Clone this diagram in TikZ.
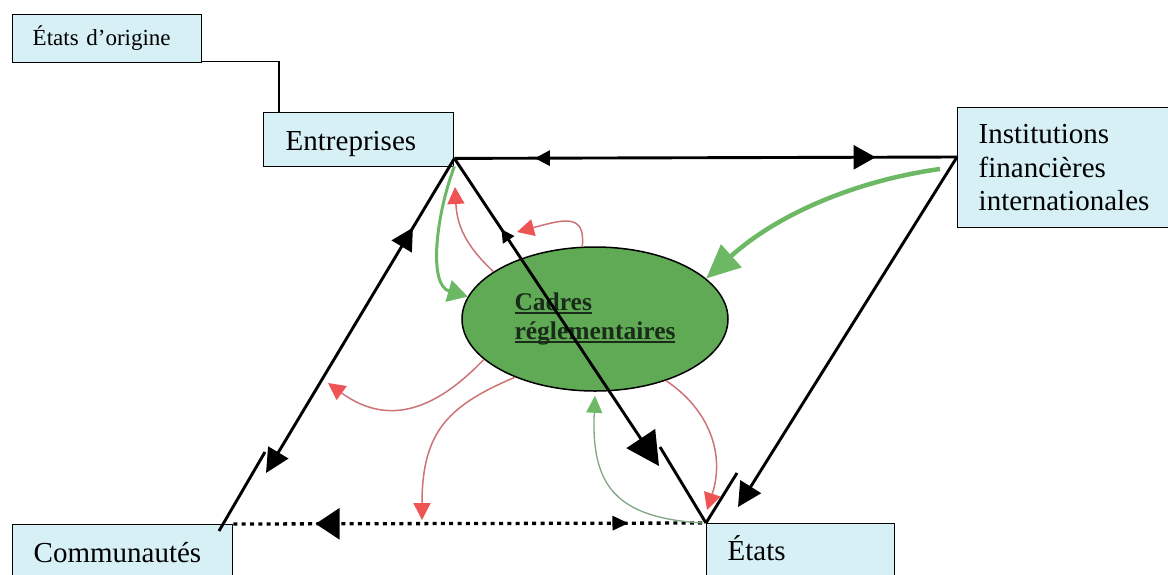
\documentclass[tikz,border=0pt]{standalone}
\usepackage{fontspec}
\setmainfont{Liberation Serif}
\usetikzlibrary{arrows.meta,decorations.markings,calc,shapes.geometric}

\definecolor{boxcyan}{RGB}{214,240,246}
\definecolor{cadgreen}{RGB}{96,170,86}
\definecolor{flowgreen}{RGB}{108,184,100}
\definecolor{thingreen}{RGB}{128,165,128}
\definecolor{flowred}{RGB}{205,115,118}
\definecolor{headred}{RGB}{238,84,84}
\definecolor{cadtext}{RGB}{24,44,24}

% underline at a fixed depth, crossing descenders
\newcommand{\undl}[1]{\setbox0\hbox{#1}\rlap{\rule[-3pt]{\wd0}{1.8pt}}\box0}

\tikzset{
  actor/.style={draw=black, line width=1.4pt, fill=boxcyan, anchor=north west,
    inner ysep=0pt, align=left, font=\fontsize{29}{33.5}\selectfont},
  cadre/.style={ellipse, draw=black, line width=1.5pt, fill=cadgreen,
    minimum width=266pt, minimum height=144pt, inner sep=0pt, align=left,
    font=\fontsize{25.5}{29}\selectfont\bfseries, text=cadtext},
  link/.style={draw=black, line width=2.9pt},
  thinlink/.style={draw=black, line width=1.3pt},
  dotline/.style={draw=black, line width=3.3pt, dash pattern=on 4pt off 4.3pt},
  fwdmark/.style 2 args={postaction={decorate, decoration={markings,
      mark=at position #1 with {\arrow{#2}}}}},
  backmark/.style 2 args={postaction={decorate, decoration={markings,
      mark=at position #1 with {\arrowreversed{#2}}}}},
  redflow/.style={draw=flowred, line width=1.5pt},
  greenflow/.style={draw=flowgreen},
}
\newcommand{\redtip}{Triangle[length=17pt,width=17pt,color=headred]}

\begin{document}
\begin{tikzpicture}[x=1pt, y=-1pt]
\useasboundingbox (0,0) rectangle (1168,574);

% actors
\node[actor, text width=149pt, inner xsep=20pt, text height=31pt, text depth=17pt,
      font=\fontsize{23}{27}\selectfont] (orig) at (12,14) {États d’origine};
\node[actor, text width=146pt, inner xsep=22pt, text height=38pt, text depth=16pt]
      (ent) at (263,112) {Entreprises};
\node[actor, text width=176pt, inner xsep=21pt, text height=36pt, text depth=84pt]
      (ifi) at (957,107) {Institutions\\financières\\internationales};
\node[actor, text width=178pt, inner xsep=21pt, text height=38pt, text depth=50pt]
      (com) at (12,524) {Communautés};
\node[actor, text width=146pt, inner xsep=21pt, text height=37pt, text depth=50pt]
      (eta) at (706,523) {États};

% regulatory frameworks
\node[cadre] (cad) at (595,319) {\undl{Cadres}\\\undl{réglementaires}};

% corners where the connectors meet
\coordinate (entC) at ([yshift=9pt]ent.south east);
\coordinate (ifiC) at ([yshift=-50pt]ifi.north west);
\coordinate (comC) at (com.north east);
\coordinate (etaC) at (eta.north west);

% loose ends of the split connectors
\coordinate (comTip) at (266,473);
\coordinate (comFoot) at (219,531);
\coordinate (comStub) at (265,452);
\coordinate (etaTip) at (659,466);
\coordinate (etaStubL) at (660,447);
\coordinate (ifiTip) at (738,507);
\coordinate (etaStubR) at (737,473);

% origin states to firms
\draw[thinlink] ([yshift=2pt]orig.south east) -| ([xshift=16pt]ent.north west);

% firms <-> international financial institutions
\draw[link, backmark={0.16}{Triangle[length=15pt,width=15pt]},
      fwdmark={0.838}{Triangle[length=22pt,width=24pt]}] (entC) -- (ifiC);

% firms <-> communities
\draw[link, -{Triangle[length=24pt,width=23pt]},
      backmark={0.22}{Triangle[length=22pt,width=23pt]}] (entC) -- (comTip);
\draw[link] (comFoot) -- (comStub);

% firms <-> states
\draw[link, -{Triangle[length=33pt,width=34pt]},
      backmark={0.23}{Triangle[length=13pt,width=13pt]}] (entC) -- (etaTip);
\draw[link] (etaStubL) -- (etaC);

% financial institutions -> states
\draw[link, -{Triangle[length=24pt,width=24pt]}] (ifiC) -- (ifiTip);
\draw[link] (etaC) -- (etaStubR);

% communities <-> states
\draw[dotline, backmark={0.174}{Triangle[length=24pt,width=31pt]},
      fwdmark={0.836}{Triangle[length=16pt,width=14pt]}] (comC) -- (etaC);

% influences on the frameworks
\draw[greenflow, line width=3pt, -{Triangle[length=20pt,width=22pt]}]
  ([yshift=-8pt]entC) .. controls (436,215) and (428,285) .. (cad.170);
\draw[greenflow, line width=4.5pt, -{Triangle[length=34pt,width=30pt]}]
  ([xshift=-17pt,yshift=-12pt]ifiC) .. controls (860,180) and (780,212) .. (cad.20);
\coordinate (cadBelow) at ([yshift=-4pt]cad.south);
\draw[draw=thingreen, line width=1.3pt, -{Triangle[length=17pt,width=16pt,color=flowgreen]}]
  ([xshift=-3pt]etaC) .. controls (615,518) and (591,485) .. (cadBelow);

% effects of the frameworks
\coordinate (r1) at (455,187);
\coordinate (r2) at (517,232);
\coordinate (r3) at (328,383);
\coordinate (r4) at (422,520);
\coordinate (r5) at (707,510);
\draw[redflow, -{\redtip}] (cad.155) .. controls (465,245) and (457,225) .. (r1);
\draw[redflow, -{\redtip}] (cad.100) .. controls (586,212) and (562,220) .. (r2);
\draw[redflow, -{\redtip}] (cad.200) .. controls (445,400) and (395,432) .. (r3);
\draw[redflow, -{\redtip}] (cad.216) .. controls (450,405) and (422,430) .. (r4);
\draw[redflow, -{\redtip}] (cad.-41) .. controls (710,410) and (725,455) .. (r5);
\end{tikzpicture}
\end{document}
